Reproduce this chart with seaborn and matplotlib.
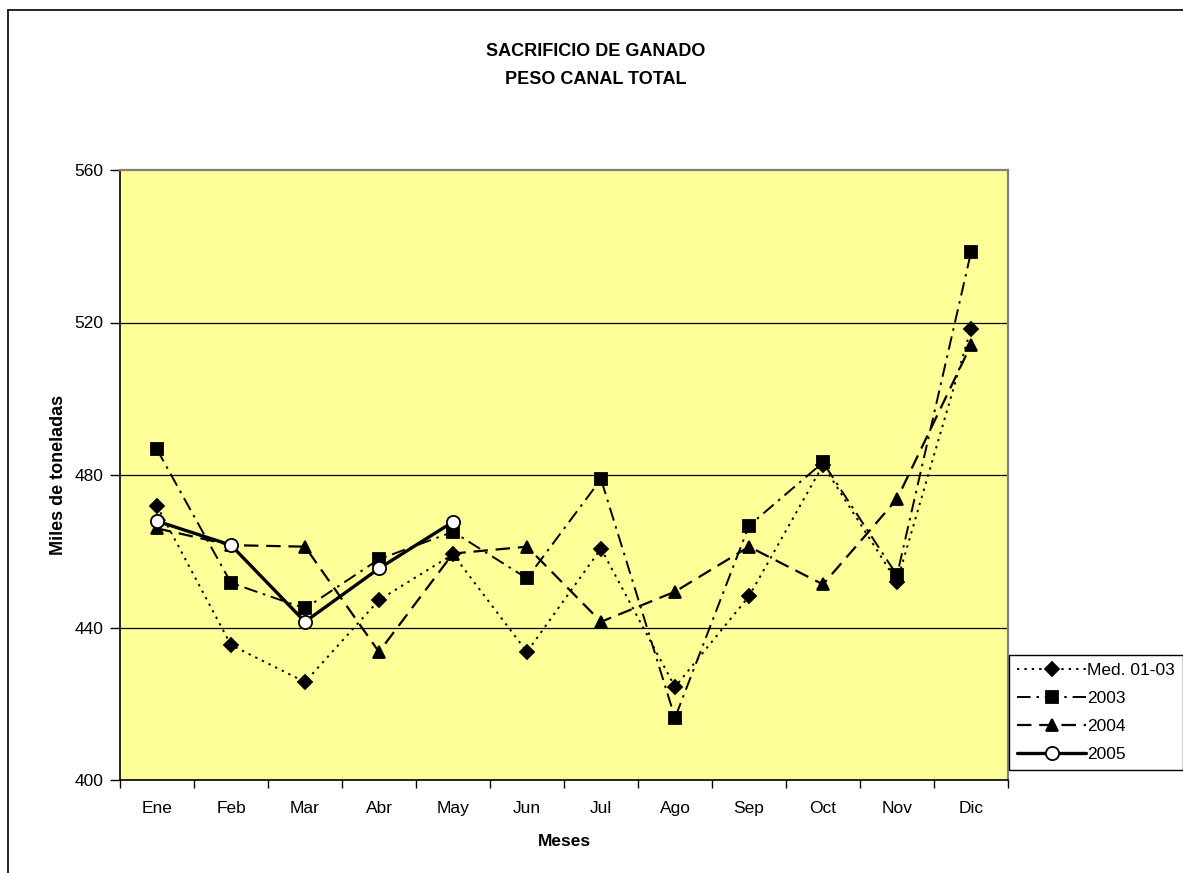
import matplotlib
matplotlib.use("Agg")
import matplotlib.pyplot as plt
import seaborn as sns
import pandas as pd
from matplotlib.lines import Line2D

months = ["Ene", "Feb", "Mar", "Abr", "May", "Jun", "Jul", "Ago", "Sep", "Oct", "Nov", "Dic"]
med_01_03 = [471.9, 435.4, 425.7, 447.2, 459.2, 433.6, 460.7, 424.4, 448.2, 482.6, 452.0, 518.4]
y2003 = [486.7, 451.7, 445.0, 457.9, 465.1, 452.9, 478.9, 416.3, 466.7, 483.3, 453.7, 538.4]
y2004 = [466.0, 461.6, 461.2, 433.6, 459.4, 461.2, 441.5, 449.4, 461.2, 451.3, 473.7, 514.1]
y2005 = [467.9, 461.6, 441.5, 455.5, 467.7]
series_names = ["Med. 01-03", "2003", "2004", "2005"]
y_ticks = [400, 440, 480, 520, 560]

sns.set_style("white")
plt.rcParams["font.family"] = ["Liberation Sans", "DejaVu Sans"]
plt.rcParams["text.color"] = "black"
plt.rcParams["axes.labelcolor"] = "black"
plt.rcParams["xtick.color"] = "black"
plt.rcParams["ytick.color"] = "black"

W, H = 1183, 873
fig = plt.figure(figsize=(W / 100, H / 100), dpi=100)
ax = fig.add_axes([120 / W, 1 - 780 / H, 888 / W, 610 / H])
ax.set_facecolor("#FFFF99")

pos = list(range(len(months)))
df = pd.DataFrame({"pos": pos, "med": med_01_03, "y2003": y2003, "y2004": y2004})
df5 = pd.DataFrame({"pos": pos[:len(y2005)], "y2005": y2005})

styles = [
    dict(y="med", data=df, linestyle=(0, (1.2, 2.6)), lw=1.4, marker="D", ms=7, mfc="black", label=series_names[0]),
    dict(y="y2003", data=df, linestyle=(0, (7, 3, 1.3, 3)), lw=1.4, marker="s", ms=8.5, mfc="black", label=series_names[1]),
    dict(y="y2004", data=df, linestyle=(0, (6.5, 3.5)), lw=1.6, marker="^", ms=9, mfc="black", label=series_names[2]),
    dict(y="y2005", data=df5, linestyle="-", lw=2.4, marker="o", ms=9.5, mfc="white", label=series_names[3]),
]
for s in styles:
    sns.lineplot(data=s["data"], x="pos", y=s["y"], ax=ax, color="black",
                 linestyle=s["linestyle"], linewidth=s["lw"], marker=s["marker"],
                 markersize=s["ms"], markerfacecolor=s["mfc"], markeredgecolor="black",
                 markeredgewidth=1.3, sort=False, legend=False, zorder=3)

ax.set_xlim(-0.5, 11.5)
ax.set_ylim(400, 560)
ax.set_yticks(y_ticks)
ax.set_yticklabels([str(v) for v in y_ticks], fontsize=12.5)
ax.set_xticks(pos)
ax.set_xticklabels(months, fontsize=12.5)
ax.tick_params(axis="x", length=0, pad=15)
ax.set_xticks([p - 0.5 for p in pos] + [11.5], minor=True)
ax.tick_params(axis="x", which="minor", length=6, width=1, color="black", direction="out")
ax.tick_params(axis="y", length=7, width=1, color="black", direction="out", pad=5)
ax.yaxis.set_ticks_position("left")
ax.xaxis.set_ticks_position("bottom")
for v in [440, 480, 520]:
    ax.axhline(v, color="black", lw=0.9, zorder=1)

for side in ["left", "bottom"]:
    ax.spines[side].set_color("black")
    ax.spines[side].set_linewidth(1.2)
for side in ["top", "right"]:
    ax.spines[side].set_color("#808080")
    ax.spines[side].set_linewidth(1.6)

ax.set_xlabel("Meses", fontsize=12.5, fontweight="bold", labelpad=13)
ax.set_ylabel("Miles de toneladas", fontsize=13, fontweight="bold", labelpad=5)

fig.text(596 / W, 1 - 52 / H, "SACRIFICIO DE GANADO", ha="center", va="center", fontsize=13, fontweight="bold")
fig.text(596 / W, 1 - 79 / H, "PESO CANAL TOTAL", ha="center", va="center", fontsize=13, fontweight="bold")

fig.add_artist(Line2D([8 / W, 8 / W], [0, 1 - 10 / H], transform=fig.transFigure, color="black", lw=1.2))
fig.add_artist(Line2D([8 / W, 1], [1 - 10 / H, 1 - 10 / H], transform=fig.transFigure, color="black", lw=1.2))

handles = [
    Line2D([], [], color="black", linestyle=s["linestyle"], lw=s["lw"], marker=s["marker"],
           ms=s["ms"], mfc=s["mfc"], mec="black", mew=1.3, label=s["label"])
    for s in styles
]
leg = fig.legend(handles=handles, loc="upper left", bbox_to_anchor=(1009 / W, 1 - 655 / H),
                 bbox_transform=fig.transFigure, frameon=True, fancybox=False, fontsize=12.5,
                 handlelength=4.0, handletextpad=0.05, labelspacing=0.74, borderpad=0.45,
                 borderaxespad=0, framealpha=1)
leg.get_frame().set_edgecolor("black")
leg.get_frame().set_linewidth(1.0)

fig.savefig("out.png", dpi=100, facecolor="white")
